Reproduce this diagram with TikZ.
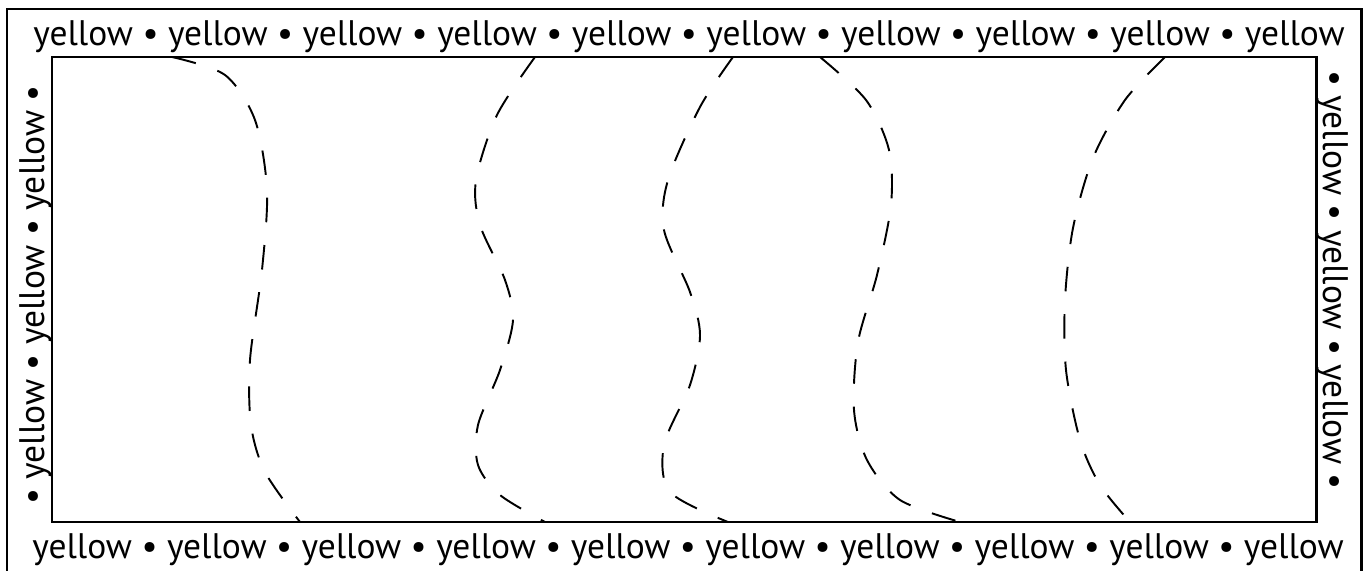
\documentclass[tikz,border=0pt]{standalone}
\usepackage{fontspec}
\setmainfont{PT Sans}
\usepackage{tikz}
\usetikzlibrary{%
  calc,
  positioning,
}

\tikzset{
  frame/.style={line width=1.7pt},
  wave/.style={line width=1.1pt, dash pattern=on 14pt off 13pt},
  label/.style={inner sep=0pt, anchor=base, font=\fontsize{20.2}{20}\selectfont},
}
\newcommand{\yrow}[1]{\foreach \k in {1,...,#1}{yellow\ifnum\k<#1{} • \fi}}

\begin{document}
\begin{tikzpicture}[x=0.02cm, y=-0.02cm]
        % pixel grid, y points down
        \useasboundingbox (0,0) rectangle (1366,571);

        \coordinate (TL) at (52,57);
        \coordinate (BR) at (1316,522);

        % outer frame, open at the bottom
        \draw[frame] (7,590) -- (7,9) -- (1361,9) -- (1361,590);
        \draw[frame] (TL) rectangle (BR);

        \node[label] (toptext) at (689,46) {\yrow{10}};
        \node[label] (bottext) at (688,558) {\yrow{10}};
        \node[label, rotate=90] (lefttext) at (44,295)
          {• \yrow{3} •};
        \node[label, rotate=-90] (righttext) at (1323,280)
          {• \yrow{3} •};

        % dashed curves
        \draw[wave] plot[smooth] coordinates {(172,57) (225,75) (255,120)
          (267,190) (262,270) (250,360) (251,425) (265,472) (300,522)};
        \draw[wave] plot[smooth] coordinates {(535,57) (497,115) (476,180)
          (480,225) (505,280) (513,320) (500,370) (478,425) (478,465)
          (500,495) (545,522)};
        \draw[wave] plot[smooth] coordinates {(733,57) (700,107) (668,180)
          (664,230) (690,292) (700,335) (690,385) (664,445) (670,492)
          (728,522)};
        \draw[wave] plot[smooth] coordinates {(820,57) (866,100) (889,150)
          (891,205) (877,275) (858,342) (854,410) (867,460) (900,500)
          (960,522)};
        \draw[wave] plot[smooth] coordinates {(1165,57) (1125,100)
          (1093,158) (1073,228) (1065,300) (1066,370) (1080,440)
          (1100,485) (1130,522)};
      \end{tikzpicture}
\end{document}
